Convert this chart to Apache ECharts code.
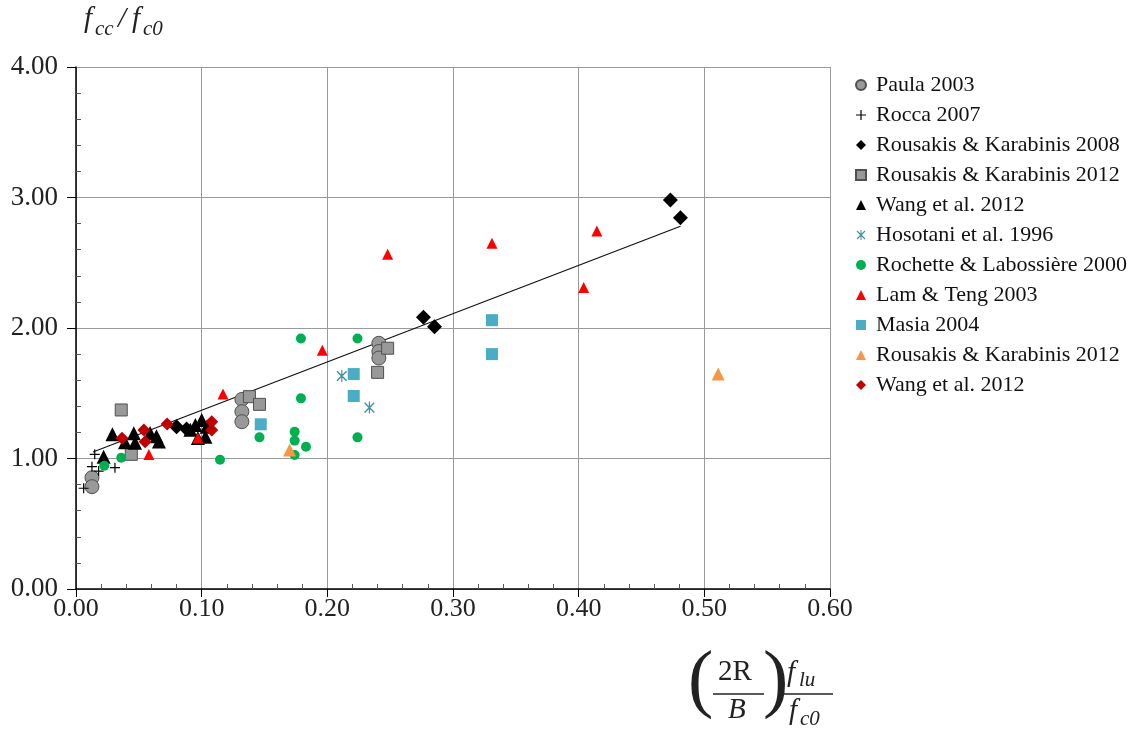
<!DOCTYPE html>
<html><head><meta charset="utf-8">
<script src="https://cdn.jsdelivr.net/npm/echarts@6/dist/echarts.min.js"></script>
<style>html,body{margin:0;padding:0;background:#fff}#c{width:1134px;height:732px}</style>
</head><body><div id="c"></div>
<script>
// ---- data ----
const xTicks = [0, 0.6, 0.1];      // min, max, interval
const yTicks = [0, 4, 1];
const seriesNames = [
  'Paula 2003', 'Rocca 2007', 'Rousakis & Karabinis 2008', 'Rousakis & Karabinis 2012',
  'Wang et al. 2012', 'Hosotani et al. 1996', 'Rochette & Labossière 2000', 'Lam & Teng 2003',
  'Masia 2004', 'Rousakis & Karabinis 2012 ', 'Wang et al. 2012 '
];
const paula = [[0.0127,0.853],[0.0127,0.784],[0.132,1.453],[0.132,1.359],[0.132,1.282],[0.241,1.883],[0.241,1.82],[0.241,1.77]];
const rocca = [[0.0149,1.032],[0.0127,0.937],[0.018,0.904],[0.031,0.930],[0.0061,0.772]];
const rousakis2008 = [[0.473,2.98],[0.481,2.845],[0.2765,2.082],[0.2853,2.01],[0.080,1.244],[0.088,1.226]];
const rousakis2012sq = [[0.036,1.372],[0.044,1.032],[0.138,1.474],[0.146,1.415],[0.248,1.845],[0.240,1.66]];
const wangTri = [[0.022,1.014],[0.029,1.185],[0.039,1.124],[0.046,1.193],[0.047,1.12],[0.059,1.195],[0.064,1.17],[0.066,1.13],[0.091,1.22],[0.095,1.257],[0.100,1.295],[0.097,1.157],[0.104,1.244],[0.103,1.167]];
const hosotani = [[0.2115,1.632],[0.2335,1.39]];
const rochette = [[0.0225,0.945],[0.036,1.006],[0.1146,0.99],[0.146,1.162],[0.174,1.205],[0.174,1.137],[0.183,1.09],[0.174,1.027],[0.179,1.461],[0.179,1.92],[0.224,1.92],[0.224,1.162]];
const lamTeng = [[0.058,1.03],[0.097,1.157],[0.117,1.494],[0.196,1.83],[0.248,2.565],[0.331,2.65],[0.404,2.31],[0.4145,2.743]];
const masia = [[0.147,1.262],[0.221,1.647],[0.221,1.479],[0.331,2.06],[0.331,1.80]];
const rousakis2012tri = [[0.170,1.065],[0.511,1.648]];
const wangDia = [[0.0366,1.155],[0.054,1.218],[0.055,1.129],[0.0725,1.265],[0.108,1.282],[0.108,1.218]];
const fitLine = [[0.0135,1.05],[0.481,2.78]];

// ---- chart ----
const SERIF = '"Liberation Serif", "DejaVu Serif", serif';
const plusPath = 'path://M4.4,0H5.6V4.4H10V5.6H5.6V10H4.4V5.6H0V4.4H4.4Z';
const starPath = 'path://M4.5,0H5.5V10H4.5Z M0.6,1.4L1.4,0.6L9.4,8.6L8.6,9.4Z M8.6,0.6L9.4,1.4L1.4,9.4L0.6,8.6Z';

function sc(name, data, symbol, size, color, border) {
  return {
    type: 'scatter', name, data, symbol, symbolSize: size, z: 3, symbolKeepAspect: true,
    itemStyle: border ? {color, borderColor: border, borderWidth: 1, opacity: 1} : {color, opacity: 1},
    emphasis: {disabled: true}
  };
}

const series = [
  {type: 'line', name: 'fit', data: fitLine, symbol: 'none', z: 2, silent: true,
   lineStyle: {color: '#111', width: 1.2}},
  sc(seriesNames[0], paula, 'circle', 14, '#999999', '#505050'),
  sc(seriesNames[1], rocca, plusPath, 10, '#000'),
  sc(seriesNames[2], rousakis2008, 'diamond', 15, '#000'),
  sc(seriesNames[3], rousakis2012sq, 'rect', 12, '#999999', '#505050'),
  sc(seriesNames[4], wangTri, 'triangle', 14, '#000'),
  sc(seriesNames[5], hosotani, starPath, 12, '#3f8ea3'),
  sc(seriesNames[6], rochette, 'circle', 10, '#00b050'),
  sc(seriesNames[7], lamTeng, 'triangle', 11, '#ff0000'),
  sc(seriesNames[8], masia, 'rect', 12, '#4bacc6'),
  sc(seriesNames[9], rousakis2012tri, 'triangle', 13, '#f79646'),
  sc(seriesNames[10], wangDia, 'diamond', 13, '#c00000')
];

const axLine = {show: true, lineStyle: {color: '#000', width: 1.5}};
const grid = {left: 76, right: 304, top: 67, bottom: 143};

const option = {
  animation: false,
  backgroundColor: '#fff',
  grid,
  xAxis: [
    {type: 'value', min: xTicks[0], max: xTicks[1], interval: xTicks[2], position: 'bottom',
     axisLine: axLine, axisTick: {show: true, length: 8, lineStyle: {color: '#000', width: 1}},
     axisLabel: {formatter: v => v.toFixed(2), fontFamily: SERIF, fontSize: 26, color: '#222', margin: 7},
     splitLine: {show: true, lineStyle: {color: '#9a9a9a', width: 1}}},
    {type: 'value', min: xTicks[0], max: xTicks[1], interval: xTicks[2], position: 'bottom',
     axisLine: {show: false}, axisTick: {show: false, inside: true},
     minorTick: {show: true, splitNumber: 5, length: 5, lineStyle: {color: '#555', width: 1}},
     axisLabel: {show: false}, splitLine: {show: false}}
  ],
  yAxis: [
    {type: 'value', min: yTicks[0], max: yTicks[1], interval: yTicks[2], position: 'left',
     axisLine: axLine, axisTick: {show: true, length: 9, lineStyle: {color: '#000', width: 1}},
     axisLabel: {formatter: v => v.toFixed(2), fontFamily: SERIF, fontSize: 27, color: '#222', margin: 18},
     splitLine: {show: true, lineStyle: {color: '#9a9a9a', width: 1}}},
    {type: 'value', min: yTicks[0], max: yTicks[1], interval: yTicks[2], position: 'left',
     axisLine: {show: false}, axisTick: {show: false, inside: true},
     minorTick: {show: true, splitNumber: 5, length: 5, lineStyle: {color: '#555', width: 1}},
     axisLabel: {show: false}, splitLine: {show: false}}
  ],
  legend: {
    data: seriesNames.map(n => ({name: n})), orient: 'vertical', left: 850, top: 69,
    itemWidth: 10, itemHeight: 10, itemGap: 8, symbolKeepAspect: true,
    textStyle: {fontFamily: SERIF, fontSize: 22, color: '#111', lineHeight: 22, padding: [0, 0, 0, 5]},
    selectedMode: false
  },
  graphic: [
    // y title  f_cc / f_c0
    {type: 'text', left: 84, top: 5, style: {text: 'f', font: 'italic 29px ' + SERIF, fill: '#222'}},
    {type: 'text', left: 95, top: 19, style: {text: 'cc', font: 'italic 21px ' + SERIF, fill: '#222'}},
    {type: 'text', left: 118, top: 5, style: {text: '/', font: 'italic 29px ' + SERIF, fill: '#222'}},
    {type: 'text', left: 132, top: 5, style: {text: 'f', font: 'italic 29px ' + SERIF, fill: '#222'}},
    {type: 'text', left: 143, top: 19, style: {text: 'c0', font: 'italic 21px ' + SERIF, fill: '#222'}},
    // x title (2R/B) f_lu/f_c0
    {type: 'text', left: 688, top: 645, style: {text: '(', font: '76px ' + SERIF, fill: '#222'}},
    {type: 'text', left: 718, top: 658, style: {text: '2R', font: '29px ' + SERIF, fill: '#222'}},
    {type: 'line', shape: {x1: 713, y1: 694, x2: 764, y2: 694}, style: {stroke: '#222', lineWidth: 1.5}},
    {type: 'text', left: 728, top: 696, style: {text: 'B', font: 'italic 29px ' + SERIF, fill: '#222'}},
    {type: 'text', left: 763, top: 645, style: {text: ')', font: '76px ' + SERIF, fill: '#222'}},
    {type: 'text', left: 787, top: 659, style: {text: 'f', font: 'italic 29px ' + SERIF, fill: '#222'}},
    {type: 'text', left: 799, top: 670, style: {text: 'lu', font: 'italic 21px ' + SERIF, fill: '#222'}},
    {type: 'line', shape: {x1: 782, y1: 694, x2: 833, y2: 694}, style: {stroke: '#222', lineWidth: 1.5}},
    {type: 'text', left: 789, top: 697, style: {text: 'f', font: 'italic 29px ' + SERIF, fill: '#222'}},
    {type: 'text', left: 800, top: 709, style: {text: 'c0', font: 'italic 21px ' + SERIF, fill: '#222'}}
  ],
  series
};

const chart = echarts.init(document.getElementById('c'), null, {renderer: 'canvas'});
chart.setOption(option);
</script>
</body></html>
